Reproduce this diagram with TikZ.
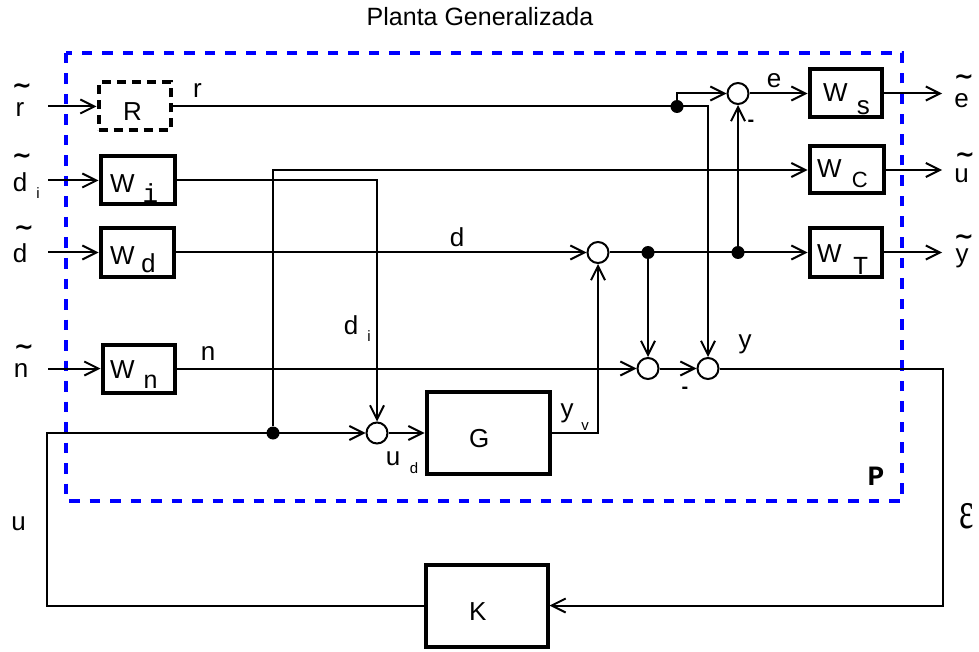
\documentclass[tikz,border=0pt]{standalone}
\usepackage{fontspec}
\usepackage{graphicx}
\setmainfont{Liberation Sans}
\newfontfamily\monof{Liberation Mono}
\newfontfamily\serf{Liberation Serif}
\newfontfamily\tldf{DejaVu Sans}
\usetikzlibrary{arrows.meta}
\newcommand\setfs[1]{\fontsize{#1pt}{#1pt}\selectfont}
\begin{document}
\begin{tikzpicture}[x=1pt,y=-1pt,
  conn/.style={line width=2pt, -{Straight Barb[length=14pt,width=14pt]}},
  blk/.style={draw, line width=4pt, inner sep=0pt},
  sumc/.style={circle, draw, line width=2pt, minimum size=21pt, inner sep=0pt},
  dotn/.style={circle, fill, minimum size=13pt, inner sep=0pt},
  lab/.style={inner sep=0pt, anchor=base, font=\setfs{26}},
  sml/.style={inner sep=0pt, anchor=base, font=\setfs{15}},
  tld/.style={inner sep=0pt, anchor=base, font=\tldf\bfseries\setfs{24}},
  mns/.style={inner sep=0pt, anchor=base, font=\bfseries\setfs{20}},
  pframe/.style={draw=blue, line width=4pt, dash pattern=on 10.5pt off 10pt}
]
\useasboundingbox (0,0) rectangle (979,652);

% title and frame
\node[lab, font=\setfs{25}] (title) at (480,26) {Planta Generalizada};
\draw[pframe] (66,53) rectangle (902,501);
\node[lab, font=\setfs{28}\monof\bfseries] (P) at (876,485) {P};

% blocks
\node[blk, dash pattern=on 9pt off 6pt, minimum width=72pt, minimum height=48pt] (R) at (134.5,106.5) {};
\node[blk, minimum width=74pt, minimum height=48pt] (Wi) at (137.5,180.5) {};
\node[blk, minimum width=73pt, minimum height=48pt] (Wd) at (137,252.5) {};
\node[blk, minimum width=72pt, minimum height=48pt] (Wn) at (138.5,368.5) {};
\node[blk, minimum width=72pt, minimum height=48pt] (Ws) at (845.5,93.5) {};
\node[blk, minimum width=74pt, minimum height=47pt] (Wc) at (846.5,170) {};
\node[blk, minimum width=72pt, minimum height=48pt] (WT) at (845.5,252.5) {};
\node[blk, minimum width=123pt, minimum height=82pt] (G) at (488,433) {};
\node[blk, minimum width=122pt, minimum height=82pt] (K) at (486.5,605.5) {};

% block texts
\node[lab, anchor=base west] (tR) at (123,121) {R};
\node[lab, anchor=base west] (tWs) at (823,102) {W\hspace{9pt}\raisebox{-13pt}{s}};
\node[lab, anchor=base west] (tWc) at (817,178) {W\hspace{10pt}\raisebox{-10pt}{\setfs{22}C}};
\node[lab, anchor=base west] (tWT) at (817,262) {W\hspace{11pt}\raisebox{-12pt}{\monof T}};
\node[lab, anchor=base west] (tWi) at (110,193) {W\hspace{8pt}\raisebox{-10pt}{\monof i}};
\node[lab, anchor=base west] (tWd) at (110,265) {W\hspace{6pt}\raisebox{-8pt}{\monof d}};
\node[lab, anchor=base west] (tWn) at (110,378) {W\hspace{9pt}\raisebox{-10pt}{\setfs{25}n}};
\node[lab, anchor=base west] (tG) at (469,447) {G};
\node[lab, anchor=base west] (tK) at (469,620) {K};

% summing junctions
\node[sumc] (se) at (738,93.5) {};
\node[sumc] (sd) at (598,252.5) {};
\node[sumc] (sn) at (648,368.5) {};
\node[sumc] (sy) at (708,368.5) {};
\node[sumc] (su) at (377,433) {};

% branch dots
\node[dotn] (dr) at (677,106.5) {};
\node[dotn] (dd1) at (648,252.5) {};
\node[dotn] (dd2) at (738,252.5) {};
\node[dotn] (du) at (273,433) {};

% free ends
\coordinate (ir) at (48,106.5);
\coordinate (idi) at (48,180.5);
\coordinate (id) at (48,252.5);
\coordinate (in) at (48,368.5);
\coordinate (oe) at (942,93.5);
\coordinate (ou) at (942,170);
\coordinate (oy) at (942,252.5);
\coordinate (cy) at (943,368.5);
\coordinate (cu) at (47,433);

% connectors
\draw[conn] (ir) -- (R);
\draw[conn] (idi) -- (Wi);
\draw[conn] (id) -- (Wd);
\draw[conn] (in) -- (Wn);
\draw[conn] (R) -| (sy);
\draw[conn] (dr) |- (se);
\draw[conn] (se) -- (Ws);
\draw[conn] (Ws) -- (oe);
\draw[conn] (Wi) -| (su);
\draw[conn] (du) |- (Wc);
\draw[conn] (Wc) -- (ou);
\draw[conn] (Wd) -- (sd);
\draw[conn] (sd) -- (WT);
\draw[conn] (WT) -- (oy);
\draw[conn] (dd1) -- (sn);
\draw[conn] (dd2) -- (se);
\draw[conn] (Wn) -- (sn);
\draw[conn] (sn) -- (sy);
\draw[conn] (sy) -- (cy) |- (K);
\draw[conn] (K) -| (cu) -- (su);
\draw[conn] (su) -- (G);
\draw[conn] (G) -| (sd);

% signal labels
\node[lab] (lr) at (197.5,98) {r};
\node[lab] (le) at (774,88) {e};
\node[lab] (ld) at (457,247) {d};
\node[lab] (ln) at (208,360) {n};
\node[lab] (ly) at (745,348) {y};
\node[lab] (ldi) at (351,334) {d};
\node[sml] (ldis) at (369,341) {i};
\node[lab] (lud) at (393,465) {u};
\node[sml] (luds) at (414,473) {d};
\node[lab] (lyv) at (567,417) {y};
\node[sml] (lyvs) at (585,430) {v};
\node[lab] (lu) at (18.5,530) {u};
\node[lab] (leps) at (967,528) {\scalebox{0.9}[1.4]{\serf\setfs{38}ε}};
\node[mns] (m1) at (751,127) {-};
\node[mns] (m2) at (685,393) {-};

% exogenous inputs / outputs
\node[lab] (xr) at (20,117) {r};
\node[tld] (xrt) at (22,94) {\textasciitilde};
\node[lab] (xdi) at (20,192) {d};
\node[sml] (xdis) at (38,199) {i};
\node[tld] (xdit) at (22,164) {\textasciitilde};
\node[lab] (xd) at (20,262) {d};
\node[tld] (xdt) at (24,236) {\textasciitilde};
\node[lab] (xn) at (21,377) {n};
\node[tld] (xnt) at (24,354) {\textasciitilde};
\node[lab] (xe) at (961.5,108) {e};
\node[tld] (xet) at (964,85) {\textasciitilde};
\node[lab] (xu) at (961.5,183) {u};
\node[tld] (xut) at (965,163) {\textasciitilde};
\node[lab] (xy) at (962,262) {y};
\node[tld] (xyt) at (964,245) {\textasciitilde};
\end{tikzpicture}
\end{document}
